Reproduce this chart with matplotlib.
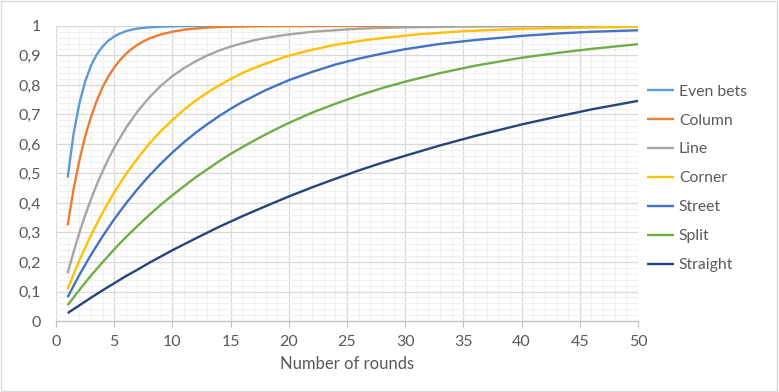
import matplotlib
matplotlib.use('Agg')

import matplotlib.pyplot as plt
from matplotlib.patches import Rectangle
from matplotlib.ticker import MultipleLocator, FuncFormatter


# ---------- Data ----------

even_n = [1, 1.5, 2, 2.5, 3, 3.5, 4, 4.5, 5, 5.5, 6, 6.5, 7, 8, 9, 10, 12, 15, 20, 50]
even_p = [0.486, 0.632, 0.736, 0.811, 0.865, 0.903, 0.930, 0.950, 0.964, 0.974,
          0.982, 0.987, 0.991, 0.995, 0.9975, 0.9987, 0.9997, 1.0, 1.0, 1.0]

column_n = [1, 1.5, 2, 2.5, 3, 3.5, 4, 4.5, 5, 5.5, 6, 6.5, 7, 7.5, 8, 9, 10, 11, 12,
            13, 14, 15, 17, 20, 25, 50]
column_p = [0.324, 0.445, 0.543, 0.625, 0.691, 0.746, 0.792, 0.829, 0.859, 0.884,
            0.905, 0.922, 0.936, 0.947, 0.957, 0.971, 0.980, 0.987, 0.991,
            0.994, 0.996, 0.997, 0.9987, 0.9996, 1.0, 1.0]

line_n = [1, 1.5, 2, 2.5, 3, 3.5, 4, 4.5, 5, 6, 7, 8, 9, 10, 11, 12, 13, 14, 15, 16,
          17, 18, 19, 20, 22, 25, 27, 30, 35, 40, 50]
line_p = [0.162, 0.233, 0.298, 0.358, 0.412, 0.462, 0.507, 0.549, 0.587, 0.654,
          0.710, 0.757, 0.797, 0.830, 0.857, 0.880, 0.900, 0.916, 0.930, 0.941,
          0.951, 0.959, 0.965, 0.971, 0.980, 0.988, 0.992, 0.995, 0.998, 0.9992, 0.9999]

corner_n = [1, 2, 3, 4, 5, 6, 7, 8, 9, 10, 11, 12, 13, 14, 15, 16, 17, 18, 19, 20, 22,
            24, 27, 31, 35, 40, 45, 50]
corner_p = [0.108, 0.205, 0.290, 0.367, 0.436, 0.497, 0.551, 0.600, 0.643, 0.681,
            0.716, 0.747, 0.774, 0.798, 0.820, 0.840, 0.857, 0.872, 0.886, 0.899,
            0.919, 0.936, 0.954, 0.971, 0.982, 0.990, 0.994, 0.997]

street_n = [1, 2, 3, 4, 5, 6, 7, 8, 9, 10, 11, 12, 13, 14, 15, 16, 17, 18, 19, 20, 22,
            24, 26, 28, 30, 33, 36, 40, 43, 46, 50]
street_p = [0.081, 0.156, 0.224, 0.287, 0.345, 0.398, 0.447, 0.492, 0.533, 0.571,
            0.606, 0.638, 0.667, 0.694, 0.719, 0.742, 0.762, 0.782, 0.799, 0.816,
            0.844, 0.869, 0.889, 0.906, 0.921, 0.939, 0.952, 0.966, 0.974, 0.980, 0.985]

split_n = [1, 2, 3, 4, 5, 6, 7, 8, 9, 10, 11, 12, 13, 14, 15, 16, 17, 18, 19, 20, 22,
           24, 26, 28, 30, 33, 36, 40, 43, 46, 50]
split_p = [0.054, 0.105, 0.154, 0.199, 0.243, 0.284, 0.322, 0.359, 0.394, 0.426,
           0.457, 0.487, 0.514, 0.541, 0.566, 0.589, 0.611, 0.632, 0.652, 0.671,
           0.706, 0.736, 0.764, 0.789, 0.811, 0.840, 0.865, 0.892, 0.908, 0.922, 0.938]

straight_n = [1, 2, 3, 4, 5, 6, 7, 8, 10, 12, 14, 16, 18, 20, 22, 24, 26, 28, 30, 33,
              36, 40, 43, 46, 50]
straight_p = [0.027, 0.053, 0.079, 0.104, 0.128, 0.152, 0.174, 0.197, 0.240, 0.280,
              0.319, 0.355, 0.389, 0.422, 0.453, 0.482, 0.510, 0.536, 0.560, 0.595,
              0.627, 0.666, 0.692, 0.717, 0.746]

series = [
    ("Even bets", even_n, even_p, "#5B9BD5"),
    ("Column", column_n, column_p, "#ED7D31"),
    ("Line", line_n, line_p, "#A5A5A5"),
    ("Corner", corner_n, corner_p, "#FFC000"),
    ("Street", street_n, street_p, "#4472C4"),
    ("Split", split_n, split_p, "#70AD47"),
    ("Straight", straight_n, straight_p, "#264478"),
]


# ---------- Plot ----------

plt.rcParams['font.family'] = ['Lato', 'DejaVu Sans']
text_color = "#595959"

fig = plt.figure(figsize=(7.79, 3.92), dpi=100)
ax = fig.add_axes([0.0719, 0.181, 0.819 - 0.0719, 0.934 - 0.181])

for name, n, p, color in series:
    ax.plot(n, p, color=color, lw=1.7, label=name, solid_capstyle="butt",
            solid_joinstyle="round")

ax.set_xlim(0, 50)
ax.set_ylim(0, 1)

ax.xaxis.set_major_locator(MultipleLocator(5))
ax.xaxis.set_minor_locator(MultipleLocator(1))
ax.yaxis.set_major_locator(MultipleLocator(0.1))
ax.yaxis.set_minor_locator(MultipleLocator(0.02))
ax.yaxis.set_major_formatter(FuncFormatter(lambda v, pos: f"{v:g}".replace(".", ",")))

ax.grid(which="major", color="#d9d9d9", lw=0.9)
ax.grid(which="minor", color="#f0f0f0", lw=0.8)
ax.set_axisbelow(True)

for side in ["top", "right", "left"]:
    ax.spines[side].set_visible(False)
ax.spines["bottom"].set_color("#bfbfbf")
ax.spines["bottom"].set_linewidth(0.9)

ax.tick_params(axis="x", which="major", length=4, color="#bfbfbf", pad=6,
               labelsize=11.5, labelcolor=text_color)
ax.tick_params(axis="y", which="major", length=0, pad=11,
               labelsize=11.5, labelcolor=text_color)
ax.tick_params(which="minor", length=0)

ax.set_xlabel("Number of rounds", fontsize=12, color=text_color, labelpad=5)

fig.legend(loc="upper left", bbox_to_anchor=(0.822, 0.80), frameon=False,
           fontsize=11.3, labelcolor=text_color, handlelength=1.75,
           handletextpad=0.3, labelspacing=0.95, borderaxespad=0)

fig.add_artist(Rectangle((0.001, 0.002), 0.997, 0.995, transform=fig.transFigure,
                         fill=False, edgecolor="#d9d9d9", lw=1))

fig.savefig("out.png", dpi=100)
